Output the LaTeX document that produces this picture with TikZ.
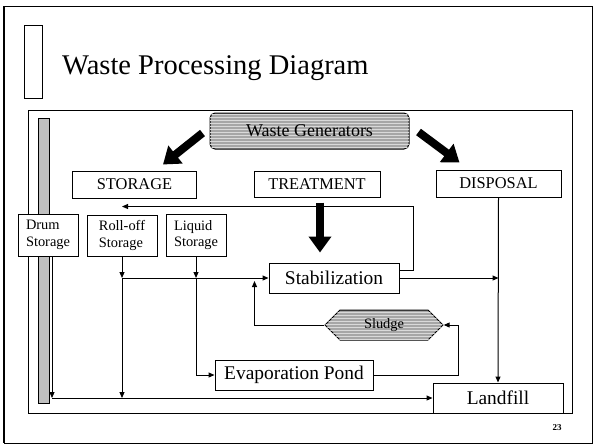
\documentclass[tikz,border=0pt]{standalone}
\usepackage{fontspec}
\setmainfont{Liberation Serif}
\usetikzlibrary{arrows.meta,calc,patterns,shapes.symbols}
\tikzset{
  box/.style={draw,line width=1pt,fill=white,inner sep=0pt},
  headbox/.style={box,font=\fontsize{16.4}{18}\selectfont},
  storebox/.style={box,align=left,font=\fontsize{14.4}{16.5}\selectfont},
  stepbox/.style={box,font=\fontsize{19.4}{21}\selectfont},
  shaded/.style={draw,line width=1pt,fill=gray!70,inner sep=0pt,
    postaction={pattern=horizontal lines,pattern color=gray!30}},
  fatarrow/.style={line width=8pt,-{Triangle[length=16pt,width=22pt]}},
  flow/.style={line width=1pt,-{Triangle[length=6pt,width=5pt]}},
  plain/.style={line width=1pt}
}
\begin{document}
\begin{tikzpicture}[x=1pt,y=-1pt]
  \useasboundingbox (0,0) rectangle (594,445);
  % slide frame and title
  \draw[plain] (4,6) rectangle (592,443);
  \draw[line width=2.5pt] (4,6) -- (4,443);
  \draw[plain] (24,25) rectangle (42,98);
  \node[anchor=base west,inner sep=0pt,font=\fontsize{28.5}{30}\selectfont] (title) at (62,74) {Waste Processing Diagram};
  % diagram panel
  \draw[plain] (28,110) rectangle (572,413);
  \node[draw,line width=1pt,fill=gray!50,minimum width=11pt,minimum height=285pt,inner sep=0pt] (bar) at (43.5,260.5) {};
  % nodes
  \node[shaded,rounded corners=5pt,minimum width=199pt,minimum height=36pt,font=\fontsize{18}{20}\selectfont] (gen) at (309.5,131) {Waste Generators};
  \node[headbox,minimum width=124pt,minimum height=27pt] (storage) at (134.5,184.5) {STORAGE};
  \node[headbox,minimum width=126pt,minimum height=26pt] (treatment) at (317,184) {TREATMENT};
  \node[headbox,minimum width=125pt,minimum height=27pt] (disposal) at (498.5,183.5) {DISPOSAL};
  \node[storebox,minimum width=60pt,minimum height=42pt] (drum) at (48,235) {Drum\\Storage};
  \node[storebox,minimum width=70pt,minimum height=41pt] (rolloff) at (122,235.5) {Roll-off\\Storage};
  \node[storebox,minimum width=60pt,minimum height=42pt] (liquid) at (196,235) {Liquid\\Storage};
  \node[stepbox,minimum width=130pt,minimum height=30pt] (stab) at (334,278) {Stabilization};
  \node[shaded,shape=signal,signal to=west and east,minimum width=118pt,minimum height=30pt,font=\fontsize{14.4}{16}\selectfont] (sludge) at (384,325) {Sludge};
  \node[stepbox,minimum width=158pt,minimum height=30pt] (evap) at (294,375) {Evaporation Pond};
  \node[stepbox,minimum width=130pt,minimum height=30pt] (landfill) at (498,398) {Landfill};
  \node[font=\bfseries\fontsize{9}{10}\selectfont,inner sep=0pt] (page) at (557,428) {23};
  % big arrows from the generators
  \draw[fatarrow] ($(gen.west)+(-7,2)$) -- ($(storage.north east)+(-34,-6)$);
  \draw[fatarrow] ($(gen.east)+(9,1)$) -- ($(disposal.north west)+(24,-7)$);
  \draw[fatarrow] ($(treatment.south)+(3,5)$) -- ($(treatment.south)+(3,55)$);
  % flows
  \coordinate (ret) at ($(rolloff.north)+(0,-8)$);
  \coordinate (j1) at (rolloff.south |- stab.west);
  \coordinate (j2) at (liquid.south |- stab.west);
  \coordinate (sin) at ($(stab.west)+(-14,3)$);
  \coordinate (drumout) at ([xshift=4pt]drum.south);
  \coordinate (corner) at (drumout |- landfill.west);
  \draw[flow] ([yshift=8pt]stab.east) -- ++(14,0) |- (ret);
  \draw[flow] (rolloff.south) -- (j1);
  \draw[flow] (j1) -- (rolloff.south |- landfill.west);
  \draw[flow] (liquid.south) -- (j2);
  \draw[plain] (j1) -- (j2);
  \draw[flow] (j2) -- (stab.west);
  \draw[flow] (j2) |- (evap.west);
  \draw[flow] (stab.east) -- (disposal.south |- stab.east);
  \draw[flow] (disposal.south) -- (landfill.north);
  \draw[flow] (sludge.west) -| (sin);
  \draw[flow] (evap.east) -- ++(85,0) |- (sludge.east);
  \draw[flow] (drumout) -- (corner);
  \draw[flow] (corner) -- (landfill.west);
\end{tikzpicture}
\end{document}
